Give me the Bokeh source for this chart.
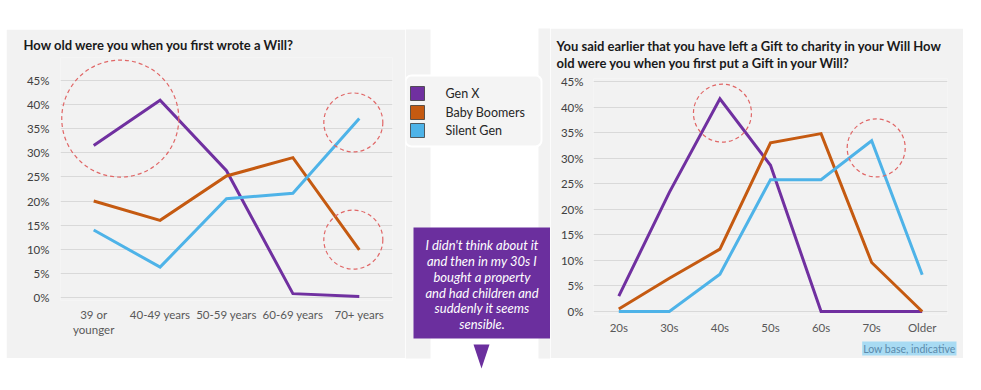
from bokeh.plotting import figure
from bokeh.layouts import row
from bokeh.models import Range1d, FixedTicker, PrintfTickFormatter, Title
from bokeh.core.properties import value
from bokeh.embed import file_html
from bokeh.resources import INLINE

FONT = "Lato"
GRAY = "#f2f2f2"

# ---------------- data ----------------
series = ["Gen X", "Baby Boomers", "Silent Gen"]
colors = ["#7030A0", "#C55A11", "#4EB3E8"]

left_categories = ["39 or\nyounger", "40-49 years", "50-59 years", "60-69 years", "70+ years"]
left_genx = [31.5, 40.9, 26.3, 0.8, 0.2]
left_boomers = [20.0, 16.0, 25.2, 29.0, 9.9]
left_silent = [14.0, 6.3, 20.5, 21.6, 37.1]

right_categories = ["20s", "30s", "40s", "50s", "60s", "70s", "Older"]
right_genx = [3.0, 23.3, 41.6, 28.6, 0.0, 0.0, 0.0]
right_boomers = [0.5, 6.5, 12.2, 33.0, 34.8, 9.6, 0.0]
right_silent = [0.0, 0.0, 7.3, 25.8, 25.8, 33.4, 7.2]

y_ticks = [0, 5, 10, 15, 20, 25, 30, 35, 40, 45]

left_title = "How old were you when you first wrote a Will?"
right_title_lines = [
    "You said earlier that you have left a Gift to charity in your Will How",
    "old were you when you first put a Gift in your Will?",
]
quote_lines = [
    "I didn't think about it",
    "and then in my 30s I",
    "bought a property",
    "and had children and",
    "suddenly it seems",
    "sensible.",
]
note_text = "Low base, indicative"

# highlight rings: (x position, y value, radius px)
left_rings_x = [0.40, 3.91, 3.91]
left_rings_y = [37.1, 36.3, 12.0]
left_rings_r = [58.5, 29.5, 29.5]
right_rings_x = [2.05, 5.09]
right_rings_y = [38.8, 32.0]
right_rings_r = [29, 29]


def make_chart(cats, data, width, height, margin, mbl, mbr, mbt, mbb, y_lo, y_hi, sy, sx):
    n = len(cats)
    xs = list(range(n))
    p = figure(width=width, height=height, x_range=Range1d(-0.5, n - 0.5),
               y_range=Range1d(y_lo, y_hi), output_backend="svg",
               toolbar_location=None, min_border_left=mbl, min_border_right=mbr,
               min_border_top=mbt, min_border_bottom=mbb, margin=margin,
               frame_align=False)
    p.background_fill_color = GRAY
    p.border_fill_color = GRAY
    p.outline_line_color = None
    for name, vals, c in zip(series, data, colors):
        p.line(xs, vals, line_color=c, line_width=3, line_join="miter")
    p.xaxis.ticker = FixedTicker(ticks=xs)
    p.xaxis.major_label_overrides = {i: c for i, c in enumerate(cats)}
    p.yaxis.ticker = FixedTicker(ticks=y_ticks)
    p.yaxis.formatter = PrintfTickFormatter(format="%d%%")
    for ax in (p.xaxis[0], p.yaxis[0]):
        ax.axis_line_color = None
        ax.major_tick_line_color = None
        ax.minor_tick_line_color = None
        ax.major_tick_out = 0
        ax.major_tick_in = 0
        ax.major_label_text_font = FONT
    p.yaxis.major_label_text_font_size = "11.5px"
    p.yaxis.major_label_text_color = "#404040"
    p.yaxis.major_label_standoff = sy
    p.xaxis.major_label_text_font_size = "11.5px"
    p.xaxis.major_label_text_color = "#595959"
    p.xaxis.major_label_standoff = sx
    p.xgrid.grid_line_color = None
    p.ygrid.grid_line_color = "#d9d9d9"
    p.ygrid.grid_line_width = 1
    p.ygrid.ticker = FixedTicker(ticks=y_ticks)
    return p


def title(text, standoff, offset, line_height):
    return Title(text=text, align="left", offset=offset, standoff=standoff,
                 text_font=FONT, text_font_style="bold", text_font_size="13px",
                 text_color="#1a1a1a", text_line_height=line_height)


left = make_chart(left_categories, [left_genx, left_boomers, left_silent], 399, 329,
                  (29, 0, 0, 6), 54, 13, 28, 58, -0.62, 49.77, 11, 7)
left.circle(left_rings_x, left_rings_y, radius=left_rings_r, radius_units="screen",
            fill_color=None, line_color="#e06666", line_width=1.2, line_dash="4 3")
left.add_layout(title(left_title, 9, -37, 1.0), "above")

right = make_chart(right_categories, [right_genx, right_boomers, right_silent], 413, 330,
                   (28, 0, 0, 0), 43, 16, 49, 43, -0.58, 45.58, 10, 6)
right.circle(right_rings_x, right_rings_y, radius=right_rings_r, radius_units="screen",
             fill_color=None, line_color="#e06666", line_width=1.2, line_dash="4 3")
right.add_layout(title("\n".join(right_title_lines), 15, -37, 1.05), "above")
right.add_layout(Title(text=note_text, align="right", offset=-9, standoff=6,
                       text_font=FONT, text_font_size="10.5px", text_font_style="normal",
                       text_color="#5b8aab", background_fill_color="#a8dbf3",
                       padding=1), "below")

# ---------------- middle strip: legend + quote ----------------
mid = figure(width=145, height=374, x_range=Range1d(405, 550), y_range=Range1d(374, 0),
             x_axis_type=None, y_axis_type=None, output_backend="svg",
             toolbar_location=None, min_border=0, frame_align=False)
mid.outline_line_color = None
mid.background_fill_color = "white"
mid.border_fill_color = "white"
mid.grid.visible = False
mid.quad(left=[405, 538], right=[430, 550], top=[29, 28], bottom=[358, 358],
         fill_color=GRAY, line_color=None)
mid.quad(left=[405], right=[541], top=[75], bottom=[146], fill_color="#f4f4f4",
         line_color="white", line_width=2, border_radius=6)
leg_y = [93, 112, 130]
mid.rect(x=[417] * 3, y=leg_y, width=14, height=14, fill_color=colors,
         line_color="#3a3a3a", line_width=0.8)
mid.text(x=[445] * 3, y=leg_y, text=series, text_font=value(FONT), text_font_size="12.5px",
         text_color="#262626", text_baseline="middle")
QUOTE = "#6B2F9E"
mid.quad(left=[413], right=[550], top=[227], bottom=[338], fill_color=QUOTE, line_color=None)
mid.patch(x=[473, 489, 481], y=[344, 344, 368], fill_color=QUOTE, line_color=None)
mid.text(x=[481.5] * len(quote_lines), y=[244, 260, 276, 292, 307, 323], text=quote_lines,
         text_font=value(FONT), text_font_size="13px", text_font_style="italic",
         text_color="white", text_align="center", text_baseline="middle")

layout = row(left, mid, right)
open("out.html", "w").write(file_html(layout, INLINE))
